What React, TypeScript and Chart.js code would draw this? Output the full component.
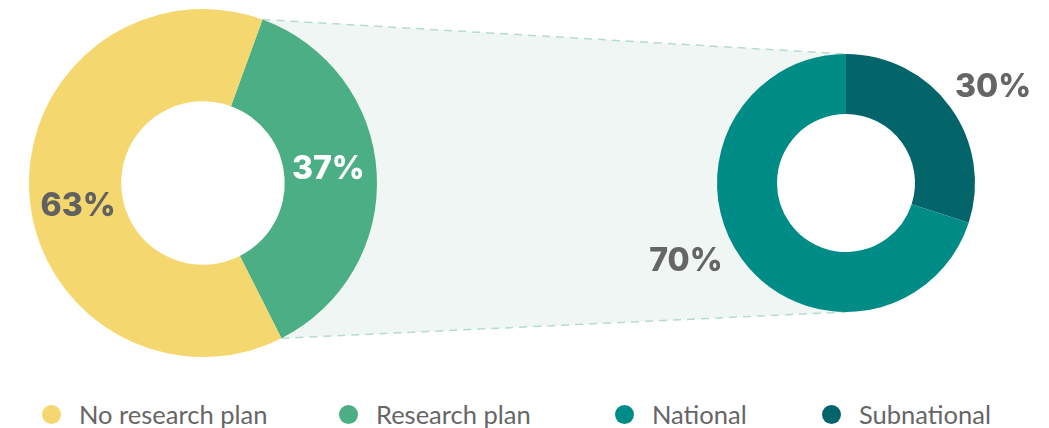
import React, { useEffect, useRef } from "react";
import { Chart, registerables } from "chart.js";

Chart.register(...registerables);

const planLabels = ["Research plan", "No research plan"];
const planValues = [37, 63];
const planColors = ["#4CAE84", "#F5D76F"];
const planTextColors = ["#FFFFFF", "#616161"];

const scopeLabels = ["Subnational", "National"];
const scopeValues = [30, 70];
const scopeColors = ["#03646A", "#008C86"];
const scopeTextColors = ["#656565", "#656565"];

const legendLabels = ["No research plan", "Research plan", "National", "Subnational"];
const legendColors = ["#F5D76F", "#4CAE84", "#008C86", "#03646A"];

const W = 1049;
const H = 390;

// label placement relative to arcs: [angle shift (deg), radial factor of outer radius]
const planLabelPlace = [[-3, 0.725], [-7, 0.73]];
const scopeLabelPlace = [[3, 1.36], [10, 1.38]];
const legendLeft = [42, 339, 615, 822];

function makeLabelPlugin(id: string, place: number[][], colors: string[]) {
  return {
    id,
    afterDatasetsDraw(chart: any) {
      const meta = chart.getDatasetMeta(0);
      const ctx = chart.ctx;
      const data = chart.data.datasets[0].data as number[];
      ctx.save();
      ctx.font = "800 32px Inter";
      ctx.textAlign = "center";
      ctx.textBaseline = "middle";
      meta.data.forEach((arc: any, i: number) => {
        const p = arc.getProps(["x", "y", "startAngle", "endAngle", "outerRadius"], true);
        const mid = (p.startAngle + p.endAngle) / 2 + (place[i][0] * Math.PI) / 180;
        const r = p.outerRadius * place[i][1];
        ctx.fillStyle = colors[i];
        ctx.fillText(data[i] + "%", p.x + r * Math.cos(mid), p.y + r * Math.sin(mid));
      });
      ctx.restore();
    },
  };
}

function fillHole(chart: any) {
  const arc: any = chart.getDatasetMeta(0).data[0];
  const p = arc.getProps(["x", "y", "innerRadius"], true);
  const ctx = chart.ctx;
  ctx.save();
  ctx.beginPath();
  ctx.arc(p.x, p.y, p.innerRadius + 0.5, 0, Math.PI * 2);
  ctx.fillStyle = "#FFFFFF";
  ctx.fill();
  ctx.restore();
}

export default function App() {
  const refA = useRef<HTMLCanvasElement>(null);
  const refB = useRef<HTMLCanvasElement>(null);

  useEffect(() => {
    if (!refA.current || !refB.current) return;
    const chartA = new Chart(refA.current, {
      type: "doughnut",
      data: {
        labels: planLabels,
        datasets: [
          {
            data: planValues,
            backgroundColor: planColors,
            borderWidth: 0,
            hoverOffset: 0,
          },
        ],
      },
      options: {
        responsive: false,
        animation: false,
        rotation: 20,
        cutout: "47%",
        layout: { padding: { left: 29, top: 9, right: W - 377, bottom: H - 357 } },
        plugins: { legend: { display: false }, tooltip: { enabled: false } },
        events: [],
      },
      plugins: [
        { id: "holeA", beforeDatasetsDraw: (c: any) => fillHole(c) },
        makeLabelPlugin("planLabels", planLabelPlace, planTextColors),
      ],
    });

    const connector = {
      id: "connector",
      beforeDatasetsDraw(chart: any) {
        const metaA = chartA.getDatasetMeta(0);
        const arcA: any = metaA.data[0];
        const pa = arcA.getProps(["x", "y", "startAngle", "endAngle", "outerRadius"], true);
        const metaB = chart.getDatasetMeta(0);
        const arcB: any = metaB.data[0];
        const pb = arcB.getProps(["x", "y", "outerRadius"], true);
        const a1 = { x: pa.x + pa.outerRadius * Math.cos(pa.startAngle), y: pa.y + pa.outerRadius * Math.sin(pa.startAngle) };
        const a2 = { x: pa.x + pa.outerRadius * Math.cos(pa.endAngle), y: pa.y + pa.outerRadius * Math.sin(pa.endAngle) };
        const b1 = { x: pb.x, y: pb.y - pb.outerRadius };
        const b2 = { x: pb.x, y: pb.y + pb.outerRadius };
        const ctx = chart.ctx;
        ctx.save();
        ctx.beginPath();
        ctx.moveTo(a1.x, a1.y);
        ctx.lineTo(b1.x, b1.y);
        ctx.lineTo(b2.x, b2.y);
        ctx.lineTo(a2.x, a2.y);
        ctx.closePath();
        ctx.fillStyle = "#EFF6F3";
        ctx.fill();
        ctx.setLineDash([8, 6]);
        ctx.lineWidth = 1.5;
        ctx.strokeStyle = "#B7DCC7";
        ctx.beginPath();
        ctx.moveTo(a1.x, a1.y);
        ctx.lineTo(b1.x, b1.y);
        ctx.moveTo(a2.x, a2.y);
        ctx.lineTo(b2.x, b2.y);
        ctx.stroke();
        ctx.restore();
        fillHole(chart);
      },
    };

    const chartB = new Chart(refB.current, {
      type: "doughnut",
      data: {
        labels: scopeLabels,
        datasets: [
          {
            data: scopeValues,
            backgroundColor: scopeColors,
            borderWidth: 0,
            hoverOffset: 0,
          },
        ],
      },
      options: {
        responsive: false,
        animation: false,
        rotation: 0,
        cutout: "53.5%",
        layout: { padding: { left: 717, top: 54, right: W - 975, bottom: H - 312 } },
        plugins: { legend: { display: false }, tooltip: { enabled: false } },
        events: [],
      },
      plugins: [connector, makeLabelPlugin("scopeLabels", scopeLabelPlace, scopeTextColors)],
    });

    return () => {
      chartB.destroy();
      chartA.destroy();
    };
  }, []);

  return (
    <div
      style={{
        position: "absolute",
        left: 0,
        top: 0,
        width: W,
        height: 428,
        background: "#FFFFFF",
        overflow: "hidden",
      }}
    >
      <canvas ref={refB} width={W} height={H} style={{ position: "absolute", left: 0, top: 0 }} />
      <canvas ref={refA} width={W} height={H} style={{ position: "absolute", left: 0, top: 0 }} />
      {legendLabels.map((l, i) => (
        <div
          key={l}
          style={{
            position: "absolute",
            left: legendLeft[i],
            top: 399,
            height: 30,
            display: "flex",
            alignItems: "center",
            fontFamily: "Lato",
            fontSize: 25.5,
            color: "#666666",
            whiteSpace: "nowrap",
          }}
        >
          <span
            style={{
              display: "inline-block",
              width: 19,
              height: 19,
              borderRadius: "50%",
              background: legendColors[i],
              marginRight: 18,
            }}
          />
          <span style={{ lineHeight: "30px" }}>{l}</span>
        </div>
      ))}
    </div>
  );
}
